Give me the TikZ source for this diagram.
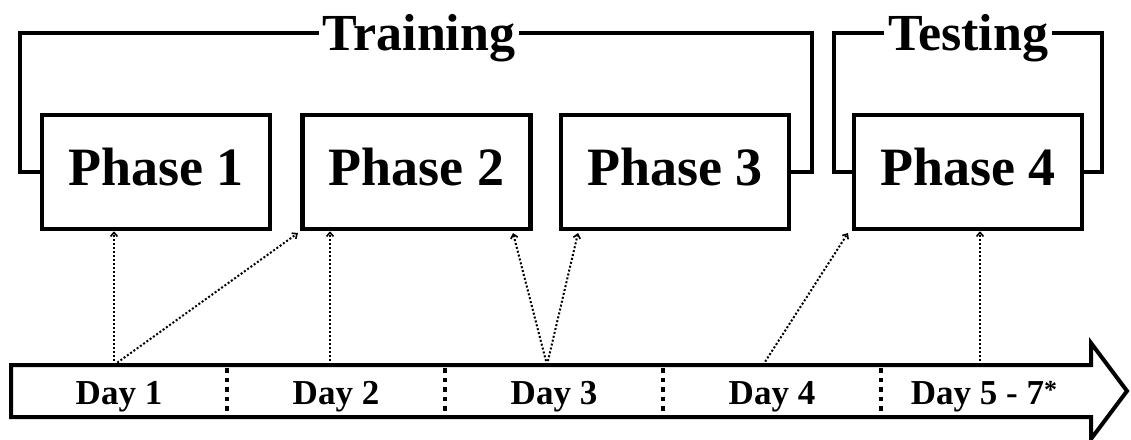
\documentclass[tikz,border=0pt]{standalone}
\usepackage{fontspec}
\setmainfont{Liberation Serif}
\usetikzlibrary{arrows.meta}
\begin{document}
\begin{tikzpicture}[x=1pt,y=-1pt,
  phasebox/.style={draw, line width=4.5pt, minimum width=228pt, minimum height=114pt, inner sep=0pt,
    font=\fontsize{54}{60}\selectfont\bfseries, text height=36pt, text depth=10pt},
  titlenode/.style={fill=white, inner xsep=4pt, inner ysep=0pt,
    font=\fontsize{52}{60}\selectfont\bfseries, text height=35pt, text depth=0pt},
  bracket/.style={line width=4pt, line join=miter},
  daylabel/.style={font=\fontsize{35}{40}\selectfont\bfseries, text height=23pt, text depth=0pt, inner sep=0pt},
  link/.style={line width=2pt, dash pattern=on 2pt off 2pt,
    -{Straight Barb[length=4pt,width=7pt,line width=1.6pt]}},
  daysep/.style={line width=4.5pt, dash pattern=on 4.5pt off 5pt}
]
\useasboundingbox (0,0) rectangle (1131,439);

% phase boxes
\node[phasebox] (p1) at (156,172) {Phase 1};
\node[phasebox] (p2) at (416.5,172) {Phase 2};
\node[phasebox] (p3) at (675,172) {Phase 3};
\node[phasebox] (p4) at (968,172) {Phase 4};

% brackets
\draw[bracket] (p1.west) -- (20,172) -- (20,33) -- (812,33) -- (812,172) -- (p3.east);
\draw[bracket] (p4.west) -- (834,172) -- (834,33) -- (1102,33) -- (1102,172) -- (p4.east);
\node[titlenode] (train) at (419,33) {Training};
\node[titlenode] (test) at (968,33) {Testing};

% timeline arrow
\draw[line width=4pt, line join=miter, fill=white]
  (11,365) -- (1091,365) -- (1091,343) -- (1127,391) -- (1091,439) -- (1091,417) -- (11,417) -- cycle;
\foreach \x in {227,445,663,881}
  \draw[daysep] (\x,368) -- (\x,417);

\node[daylabel] (l1) at (119,393) {Day 1};
\node[daylabel] (l2) at (336,393) {Day 2};
\node[daylabel] (l3) at (554,393) {Day 3};
\node[daylabel] (l4) at (772,393) {Day 4};
\node[daylabel] (l5) at (984,393) {Day 5 - 7\raisebox{6pt}{\fontsize{26}{30}\selectfont *}};

% connector points
\coordinate (d1) at (114,365);
\coordinate (d2) at (330,365);
\coordinate (d3) at (547,365);
\coordinate (d4) at (763,365);
\coordinate (d5) at (980,365);
\coordinate (t12) at (298,233);
\coordinate (t32) at (513,233);
\coordinate (t33) at (578,233);
\coordinate (t44) at (848,233);

\draw[link] (d1) -- (d1 |- p1.south);
\draw[link] (d1) -- (t12);
\draw[link] (d2) -- (d2 |- p2.south);
\draw[link] (d3) -- (t32);
\draw[link] (d3) -- (t33);
\draw[link] (d4) -- (t44);
\draw[link] (d5) -- (d5 |- p4.south);
\end{tikzpicture}
\end{document}
